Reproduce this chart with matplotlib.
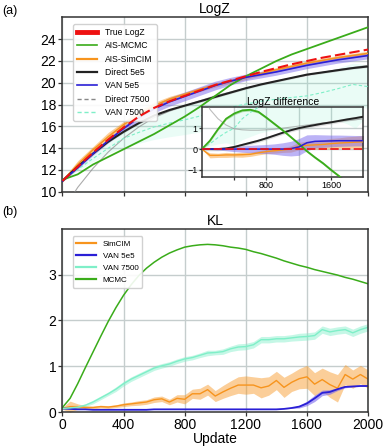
import numpy as np
import matplotlib
matplotlib.use("Agg")
import matplotlib.pyplot as plt
from matplotlib.lines import Line2D

plt.rcParams['font.family'] = ['Liberation Sans', 'DejaVu Sans']

# ---------------- data: LogZ panel (step 100) ----------------
upd = np.arange(0, 2001, 100)
true_logz = [11.0, 12.3, 13.6, 14.8, 15.9, 16.9, 17.7, 18.3, 18.8, 19.3, 19.8,
             20.2, 20.6, 21.0, 21.35, 21.7, 22.0, 22.3, 22.55, 22.8, 23.05]
ais_mcmc = [11.1, 11.6, 12.5, 13.2, 13.9, 14.6, 15.3, 16.1, 16.9, 17.8, 18.8,
            19.8, 20.6, 21.3, 22.0, 22.6, 23.1, 23.6, 24.1, 24.6, 25.1]
ais_simcim = [11.0, 12.5, 13.85, 15.05, 16.15, 17.1, 17.9, 18.5, 18.95, 19.4, 19.8,
              20.15, 20.5, 20.85, 21.2, 21.5, 21.8, 22.05, 22.3, 22.5, 22.7]
ais_simcim_err = [0.1, 0.35, 0.3, 0.4, 0.3, 0.35, 0.3, 0.25, 0.2, 0.2, 0.2,
                  0.2, 0.2, 0.2, 0.2, 0.2, 0.2, 0.2, 0.2, 0.2, 0.2]
direct_5e5 = [11.0, 12.3, 13.5, 14.6, 15.5, 16.3, 17.0, 17.5, 17.9, 18.3, 18.7,
              19.1, 19.5, 19.85, 20.15, 20.45, 20.75, 20.95, 21.15, 21.35, 21.5]
van_5e5 = [11.0, 12.2, 13.5, 14.7, 15.8, 16.8, 17.6, 18.25, 18.75, 19.25, 19.75,
           20.15, 20.5, 20.75, 21.0, 21.3, 21.6, 21.85, 22.1, 22.3, 22.5]
van_5e5_err = [0.05, 0.1, 0.15, 0.2, 0.25, 0.3, 0.35, 0.4, 0.4, 0.4, 0.4,
               0.35, 0.3, 0.3, 0.3, 0.3, 0.3, 0.3, 0.3, 0.3, 0.3]
direct_7500 = [8.2, 10.4, 12.15, 13.65, 14.9, 15.95, 16.8, 17.4, 17.9, 18.35, 18.8,
               19.15, 19.5, 19.85, 20.15, 20.45, 20.7, 20.95, 21.2, 21.4, 21.6]
van_7500 = [11.0, 12.05, 13.05, 14.0, 14.9, 15.45, 15.95, 16.3, 16.6, 16.95, 17.35,
            17.75, 18.05, 18.3, 18.5, 18.65, 18.8, 19.1, 19.45, 19.85, 19.65]
van_7500_err = [0.0, 0.1, 0.3, 0.5, 0.8, 1.0, 1.15, 1.25, 1.35, 1.45, 1.5,
                1.55, 1.6, 1.65, 1.7, 1.75, 1.8, 1.85, 1.9, 1.95, 2.0]

# ---------------- data: LogZ difference inset (step 100) ----------------
d_mcmc = [0.0, 0.4, 0.95, 1.45, 1.7, 1.85, 1.88, 1.78, 1.5, 1.2, 0.9,
          0.58, 0.25, -0.1, -0.4, -0.68, -1.0, -1.3, -1.6, -1.85, -2.05]
d_direct_5e5 = [0.0, 0.0, 0.0, 0.03, 0.1, 0.2, 0.3, 0.4, 0.52, 0.65, 0.78,
                0.9, 1.0, 1.08, 1.15, 1.22, 1.28, 1.35, 1.42, 1.48, 1.55]
d_van_5e5 = [0.0, 0.0, 0.0, 0.0, 0.0, 0.0, 0.0, 0.0, 0.0, 0.0, 0.0,
             0.02, 0.1, 0.3, 0.37, 0.38, 0.39, 0.4, 0.4, 0.4, 0.4]
d_van_5e5_err = [0.0, 0.02, 0.05, 0.08, 0.12, 0.15, 0.18, 0.2, 0.22, 0.25, 0.3,
                 0.35, 0.4, 0.38, 0.32, 0.3, 0.28, 0.27, 0.26, 0.25, 0.25]
d_simcim = [0.0, -0.3, -0.3, -0.28, -0.28, -0.27, -0.25, -0.18, -0.12, -0.08, -0.04,
            0.0, 0.14, 0.18, 0.2, 0.22, 0.26, 0.29, 0.31, 0.33, 0.35]
d_simcim_err = [0.0, 0.12, 0.1, 0.12, 0.1, 0.12, 0.1, 0.1, 0.1, 0.12, 0.12,
                0.15, 0.18, 0.2, 0.2, 0.22, 0.25, 0.25, 0.28, 0.28, 0.3]
d_direct_7500 = [2.8, 1.9, 1.45, 1.15, 0.97, 0.92, 0.9, 0.9, 0.92, 0.95, 1.0,
                 1.05, 1.1, 1.15, 1.2, 1.25, 1.3, 1.33, 1.37, 1.4, 1.45]
d_van_7500 = [0.0, 0.25, 0.55, 0.8, 1.0, 1.45, 1.75, 2.0, 2.2, 2.35, 2.45,
              2.45, 2.55, 2.7, 2.85, 3.05, 3.2, 3.2, 3.1, 2.95, 3.4]

# ---------------- data: KL panel (step 50) ----------------
upd_kl = np.arange(0, 2001, 50)
kl_simcim = [0.08, 0.12, 0.12, 0.1, 0.1, 0.12, 0.11, 0.13, 0.16, 0.18, 0.2,
             0.22, 0.27, 0.29, 0.22, 0.3, 0.28, 0.4, 0.4, 0.49, 0.35,
             0.44, 0.52, 0.59, 0.59, 0.59, 0.53, 0.57, 0.69, 0.54, 0.65,
             0.73, 0.77, 0.61, 0.71, 0.6, 0.52, 0.82, 0.72, 0.82, 0.72]
kl_simcim_err = [0.02, 0.12, 0.06, 0.04, 0.03, 0.03, 0.03, 0.03, 0.04, 0.04, 0.05,
                 0.05, 0.06, 0.06, 0.06, 0.08, 0.1, 0.1, 0.12, 0.12, 0.12,
                 0.14, 0.16, 0.18, 0.2, 0.18, 0.22, 0.2, 0.2, 0.22, 0.2,
                 0.22, 0.25, 0.25, 0.25, 0.28, 0.3, 0.22, 0.2, 0.2, 0.2]
kl_van_5e5 = [0.08, 0.07, 0.06, 0.06, 0.05, 0.05, 0.05, 0.05, 0.05, 0.05, 0.05,
              0.05, 0.06, 0.06, 0.06, 0.06, 0.06, 0.06, 0.06, 0.06, 0.06,
              0.06, 0.06, 0.06, 0.06, 0.06, 0.06, 0.06, 0.06, 0.07, 0.09,
              0.12, 0.19, 0.3, 0.42, 0.44, 0.5, 0.55, 0.56, 0.57, 0.57]
kl_van_5e5_err = [0.0] * 30 + [0.01, 0.03, 0.05, 0.07, 0.06, 0.05, 0.03, 0.02, 0.01, 0.01, 0.01]
kl_van_7500 = [0.08, 0.09, 0.11, 0.15, 0.22, 0.31, 0.4, 0.5, 0.62, 0.72, 0.8,
               0.88, 0.96, 1.01, 1.05, 1.11, 1.16, 1.19, 1.24, 1.29, 1.3,
               1.32, 1.38, 1.42, 1.43, 1.47, 1.58, 1.58, 1.6, 1.6, 1.62,
               1.64, 1.65, 1.67, 1.8, 1.75, 1.78, 1.8, 1.73, 1.8, 1.85]
kl_van_7500_err = [0.01, 0.02, 0.03, 0.03, 0.04, 0.04, 0.04, 0.05, 0.05, 0.05, 0.05,
                   0.05, 0.05, 0.05, 0.05, 0.05, 0.05, 0.05, 0.05, 0.06, 0.05,
                   0.06, 0.06, 0.07, 0.07, 0.07, 0.07, 0.07, 0.07, 0.07, 0.07,
                   0.08, 0.08, 0.08, 0.08, 0.08, 0.08, 0.08, 0.08, 0.08, 0.08]
kl_mcmc = [0.1, 0.3, 0.62, 0.97, 1.31, 1.65, 1.98, 2.28, 2.55, 2.78, 2.98,
           3.14, 3.27, 3.38, 3.47, 3.54, 3.6, 3.63, 3.65, 3.66, 3.65,
           3.63, 3.6, 3.58, 3.55, 3.5, 3.46, 3.41, 3.36, 3.3, 3.25,
           3.2, 3.16, 3.11, 3.07, 3.03, 2.99, 2.94, 2.9, 2.85, 2.8]

xticks = [0, 400, 800, 1200, 1600, 2000]

# ---------------- colours ----------------
C_RED = '#ee1111'
C_GREEN = '#3aac1a'
C_ORANGE = '#f7941d'
C_BLACK = '#222222'
C_BLUE = '#2a1fd6'
C_PURPLE = '#7b68ee'
C_GREY = '#888888'
C_AQUA = '#7fefc8'
GRID = '#c5cdcd'

fig = plt.figure(figsize=(3.83, 4.46), dpi=100)
a = np.array


def style(ax, tick_fs=10):
    ax.grid(True, color=GRID, lw=1.0)
    ax.set_axisbelow(True)
    for s in ax.spines.values():
        s.set_color('#333333')
        s.set_linewidth(1.1)
    ax.tick_params(labelsize=tick_fs, length=3, width=0.9, pad=1.5, color='#333333')


# ---------- top panel ----------
ax1 = fig.add_axes([0.163, 0.570, 0.798, 0.391])
style(ax1)
ax1.fill_between(upd, a(van_7500) - a(van_7500_err), a(van_7500) + a(van_7500_err),
                 color=C_AQUA, alpha=0.16, lw=0, zorder=1)
ax1.fill_between(upd, a(ais_simcim) - a(ais_simcim_err), a(ais_simcim) + a(ais_simcim_err),
                 color=C_ORANGE, alpha=0.45, lw=0, zorder=2)
ax1.fill_between(upd, a(van_5e5) - a(van_5e5_err), a(van_5e5) + a(van_5e5_err),
                 color=C_PURPLE, alpha=0.5, lw=0, zorder=2)
ax1.fill_between(upd, a(direct_5e5) - 0.1, a(direct_5e5) + 0.1,
                 color='#999999', alpha=0.3, lw=0, zorder=2)
ax1.plot(upd, direct_7500, color=C_GREY, lw=0.8, alpha=0.7, zorder=3)
ax1.plot(upd, van_7500, ls=(0, (3, 2)), color=C_AQUA, lw=0.8, zorder=3)
ax1.plot(upd, true_logz, ls=(0, (5, 2)), color=C_RED, lw=1.5, zorder=6)
ax1.plot(upd, ais_mcmc, color=C_GREEN, lw=1.3, zorder=5)
ax1.plot(upd, ais_simcim, color=C_ORANGE, lw=1.1, zorder=4)
ax1.plot(upd, direct_5e5, color=C_BLACK, lw=1.5, zorder=4)
ax1.plot(upd, van_5e5, color=C_BLUE, lw=1.2, zorder=5)
ax1.set_xlim(0, 2000)
ax1.set_ylim(10, 26)
ax1.set_yticks([10, 12, 14, 16, 18, 20, 22, 24])
ax1.set_xticks(xticks)
ax1.set_xticklabels([])
ax1.set_title('LogZ', fontsize=10, pad=3)

h = [Line2D([], [], color=C_RED, lw=3.5),
     Line2D([], [], color=C_GREEN, lw=1.2),
     Line2D([], [], color=C_ORANGE, lw=1.6),
     Line2D([], [], color=C_BLACK, lw=1.6),
     Line2D([], [], color=C_BLUE, lw=1.2),
     Line2D([], [], color=C_GREY, lw=1.0, ls=(0, (3, 2))),
     Line2D([], [], color=C_AQUA, lw=1.0, ls=(0, (3, 2)))]
labels = ['True LogZ', 'AIS-MCMC', 'AIS-SimCIM', 'Direct 5e5', 'VAN 5e5', 'Direct 7500', 'VAN 7500']
ax1.legend(h, labels, loc='upper left', bbox_to_anchor=(0.02, 0.985), fontsize=6.2,
           handlelength=2.4, labelspacing=0.5, borderpad=0.45, handletextpad=0.9,
           framealpha=0.9, edgecolor='#cccccc', fancybox=True)

# ---------- inset ----------
axi = fig.add_axes([0.527, 0.6025, 0.422, 0.157])
style(axi, tick_fs=6.5)
axi.set_facecolor('white')
axi.fill_between(upd, a(d_van_7500) - a(van_7500_err), a(d_van_7500) + a(van_7500_err),
                 color=C_AQUA, alpha=0.16, lw=0, zorder=1)
axi.fill_between(upd, a(d_simcim) - a(d_simcim_err), a(d_simcim) + a(d_simcim_err),
                 color=C_ORANGE, alpha=0.45, lw=0, zorder=2)
axi.fill_between(upd, a(d_van_5e5) - a(d_van_5e5_err), a(d_van_5e5) + a(d_van_5e5_err),
                 color=C_PURPLE, alpha=0.5, lw=0, zorder=2)
axi.fill_between(upd, a(d_direct_5e5) - 0.08, a(d_direct_5e5) + 0.08,
                 color='#999999', alpha=0.3, lw=0, zorder=2)
axi.fill_between(upd, a(d_mcmc) - 0.06, a(d_mcmc) + 0.06,
                 color=C_GREEN, alpha=0.35, lw=0, zorder=2)
axi.plot(upd, d_direct_7500, color=C_GREY, lw=0.8, alpha=0.55, zorder=3)
axi.plot(upd, d_van_7500, ls=(0, (3, 2)), color=C_AQUA, lw=0.8, zorder=3)
axi.plot(upd, np.zeros(len(upd)), ls=(0, (5, 2)), color=C_RED, lw=1.2, zorder=6)
axi.plot(upd, d_mcmc, color=C_GREEN, lw=1.3, zorder=5)
axi.plot(upd, d_simcim, color=C_ORANGE, lw=1.0, zorder=4)
axi.plot(upd, d_direct_5e5, color=C_BLACK, lw=1.4, zorder=4)
axi.plot(upd, d_van_5e5, color=C_BLUE, lw=1.1, zorder=5)
axi.set_xlim(0, 2000)
axi.set_ylim(-1.35, 2.0)
axi.set_yticks([-1, 0, 1])
axi.set_xticks([400, 800, 1200, 1600])
axi.set_xticklabels(['', '800', '', '1600'])
axi.tick_params(length=2, pad=1)
axi.set_title('LogZ difference', fontsize=7.5, pad=1.5)

# ---------- bottom panel ----------
ax2 = fig.add_axes([0.163, 0.076, 0.798, 0.411])
style(ax2)
ax2.fill_between(upd_kl, a(kl_simcim) - a(kl_simcim_err), a(kl_simcim) + a(kl_simcim_err),
                 color=C_ORANGE, alpha=0.45, lw=0)
ax2.fill_between(upd_kl, a(kl_van_7500) - a(kl_van_7500_err), a(kl_van_7500) + a(kl_van_7500_err),
                 color=C_AQUA, alpha=0.45, lw=0)
ax2.fill_between(upd_kl, a(kl_van_5e5) - a(kl_van_5e5_err), a(kl_van_5e5) + a(kl_van_5e5_err),
                 color=C_PURPLE, alpha=0.6, lw=0)
ax2.plot(upd_kl, kl_simcim, color=C_ORANGE, lw=1.0)
ax2.plot(upd_kl, kl_van_5e5, color=C_BLUE, lw=1.3)
ax2.plot(upd_kl, kl_van_7500, color=C_AQUA, lw=1.0)
ax2.plot(upd_kl, kl_mcmc, color=C_GREEN, lw=1.1)
ax2.set_xlim(0, 2000)
ax2.set_ylim(0, 4)
ax2.set_yticks([0, 1, 2, 3])
ax2.set_xticks(xticks)
ax2.set_xlabel('Update', fontsize=10, labelpad=0)
ax2.set_title('KL', fontsize=10, pad=3)
h2 = [Line2D([], [], color=C_ORANGE, lw=1.6),
      Line2D([], [], color=C_BLUE, lw=1.6),
      Line2D([], [], color=C_AQUA, lw=1.6),
      Line2D([], [], color=C_GREEN, lw=1.6)]
ax2.legend(h2, ['SimCIM', 'VAN 5e5', 'VAN 7500', 'MCMC'], loc='upper left',
           bbox_to_anchor=(0.02, 0.98), fontsize=5.8, handlelength=2.4,
           labelspacing=0.55, borderpad=0.45, handletextpad=0.9,
           framealpha=0.9, edgecolor='#cccccc')

fig.text(0.005, 0.988, '(a)', fontsize=9, va='top', ha='left')
fig.text(0.005, 0.537, '(b)', fontsize=9, va='top', ha='left')

fig.savefig('out.png', dpi=100)
